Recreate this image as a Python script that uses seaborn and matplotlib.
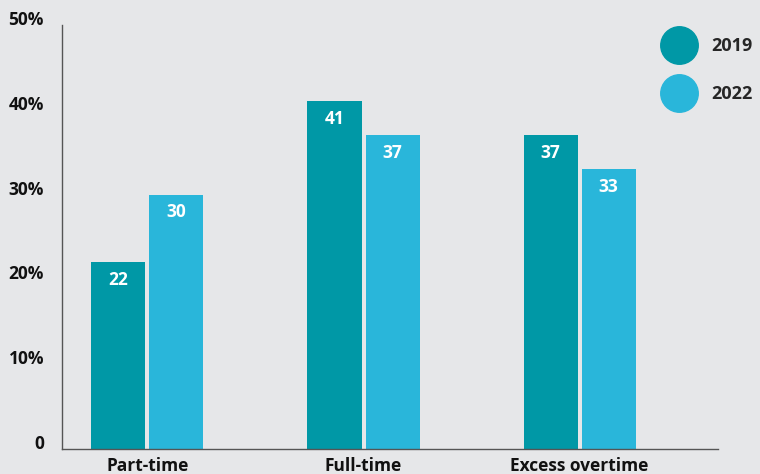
import matplotlib
matplotlib.use("Agg")
import matplotlib.pyplot as plt
from matplotlib.lines import Line2D
import seaborn as sns
import pandas as pd

categories = ["Part-time", "Full-time", "Excess overtime"]
years = ["2019", "2022"]
values_2019 = [22, 41, 37]
values_2022 = [30, 37, 33]
ytick_values = [0, 10, 20, 30, 40, 50]
ytick_labels = ["0", "10%", "20%", "30%", "40%", "50%"]

colors = {"2019": "#0098a6", "2022": "#29b6da"}
bg = "#e6e7e9"

df = pd.DataFrame({
    "category": categories * 2,
    "year": [years[0]] * 3 + [years[1]] * 3,
    "value": values_2019 + values_2022,
})

sns.set_theme(style="white")
plt.rcParams["font.family"] = ["Open Sans", "DejaVu Sans"]

fig = plt.figure(figsize=(7.6, 4.74), dpi=100, facecolor=bg)
ax = fig.add_axes([62 / 760, 25 / 474, 656 / 760, 424 / 474])
ax.set_facecolor(bg)

sns.barplot(data=df, x="category", y="value", hue="year", order=categories,
            hue_order=years, palette=colors, width=0.537, gap=0.069,
            saturation=1, legend=False, linewidth=0, edgecolor="none", ax=ax)

for cont in ax.containers:
    for bar in cont:
        h = bar.get_height()
        ax.text(bar.get_x() + bar.get_width() / 2, h - 2.1, f"{h:.0f}",
                ha="center", va="center", color="white",
                fontsize=12.5, fontweight="bold")

ax.set_xlim(-0.395, 2.64)
ax.set_ylim(0, 50)
ax.set_yticks(ytick_values)
ax.set_yticklabels(ytick_labels)
ax.set_xlabel("")
ax.set_ylabel("")
ax.tick_params(axis="y", length=3, direction="in", pad=13, labelsize=12.5,
               colors="#555555", labelcolor="#111111")
ax.tick_params(axis="x", length=0, pad=6, labelsize=12.5, labelcolor="#111111")
for lab in ax.get_yticklabels():
    lab.set_fontweight("bold")
    lab.set_verticalalignment("baseline")
for lab in ax.get_xticklabels():
    lab.set_fontweight("bold")

for s in ["top", "right"]:
    ax.spines[s].set_visible(False)
ax.spines["left"].set_color("#555555")
ax.spines["bottom"].set_color("#555555")
ax.spines["left"].set_linewidth(1)
ax.spines["bottom"].set_linewidth(1)

handles = [Line2D([], [], marker="o", linestyle="", markersize=27,
                  markerfacecolor=colors[y], markeredgecolor=colors[y])
           for y in years]
leg = fig.legend(handles, years, loc="upper right",
                 bbox_to_anchor=(769 / 760, 453 / 474), frameon=False,
                 labelspacing=1.64, handletextpad=0.8,
                 prop={"size": 13, "weight": "bold"})

fig.savefig("out.png", dpi=100, facecolor=bg)
